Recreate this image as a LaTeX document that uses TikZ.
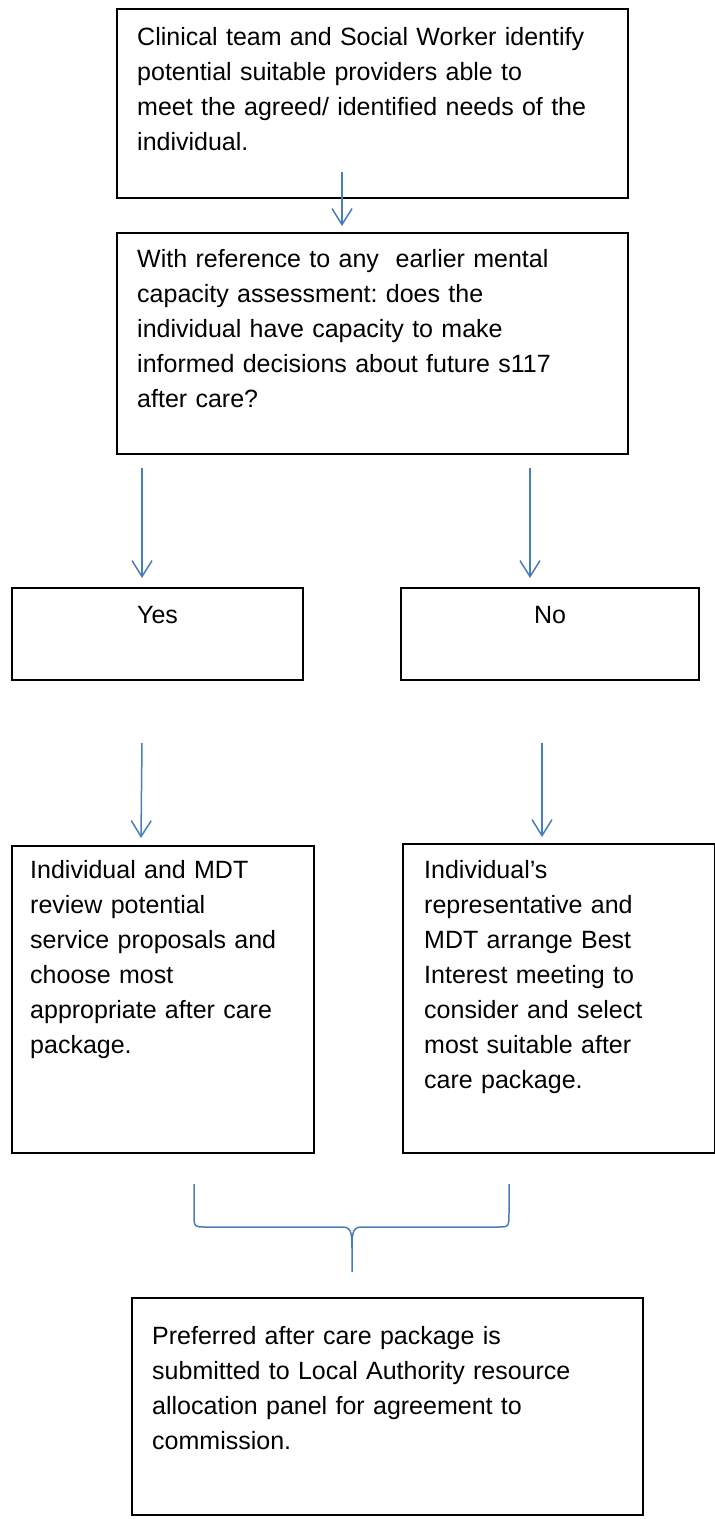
\documentclass[tikz,border=0pt]{standalone}
\usepackage{fontspec}
\setmainfont{Liberation Sans}
\usepackage{tikz}
\usetikzlibrary{arrows.meta,positioning}

\definecolor{wordblue}{RGB}{74,126,187}
\frenchspacing

\begin{document}
\begin{tikzpicture}[x=1pt,y=-1pt,
	box/.style={draw,line width=2pt,anchor=north west,inner sep=0pt},
	txt/.style={anchor=base west,align=left,inner sep=0pt,text width=560pt,
		font=\fontsize{25}{35}\selectfont},
	flowarrow/.style={wordblue,line width=1.5pt,-{Straight Barb[length=16pt,width=20pt]}},
	brace/.style={wordblue,line width=1.5pt}]

	\useasboundingbox (0,0) rectangle (715,1519);

	% boxes
	\node[box,minimum width=511pt,minimum height=189pt] (ident) at (116,8) {};
	\node[box,minimum width=511pt,minimum height=221pt] (capac) at (116,232) {};
	\node[box,minimum width=291pt,minimum height=92pt] (yes) at (11,587) {};
	\node[box,minimum width=298pt,minimum height=92pt] (no) at (400,587) {};
	\node[box,minimum width=302pt,minimum height=307pt] (review) at (11,845) {};
	\node[box,minimum width=312pt,minimum height=309pt] (bestint) at (402,843) {};
	\node[box,minimum width=511pt,minimum height=217pt] (panel) at (131,1297) {};

	% texts
	\node[txt] (identtxt) at ([shift={(21,37)}]ident.north west)
		{Clinical team and Social Worker identify\\potential suitable providers able to\\meet the agreed/ identified needs of the\\individual.};
	\node[txt] (capactxt) at ([shift={(21,35)}]capac.north west)
		{With reference to any\ \ earlier mental\\capacity assessment: does the\\individual have capacity to make\\informed decisions about future s117\\after care?};
	\node[anchor=base,inner sep=0pt,font=\fontsize{25}{35}\selectfont] (yestxt) at ([yshift=-36pt]yes.north) {Yes};
	\node[anchor=base,inner sep=0pt,font=\fontsize{25}{35}\selectfont] (notxt) at ([yshift=-36pt]no.north) {No};
	\node[txt] (reviewtxt) at ([shift={(19,33)}]review.north west)
		{Individual and MDT\\review potential\\service proposals and\\choose most\\appropriate after care\\package.};
	\node[txt] (bestinttxt) at ([shift={(22,35)}]bestint.north west)
		{Individual’s\\representative and\\MDT arrange Best\\Interest meeting to\\consider and select\\most suitable after\\care package.};
	\node[txt] (paneltxt) at ([shift={(21,47)}]panel.north west)
		{Preferred after care package is\\submitted to Local Authority resource\\allocation panel for agreement to\\commission.};

	% arrows
	\coordinate (a1s) at (342,172);
	\coordinate (a1e) at (342,226);
	\coordinate (a2ls) at (142,468);
	\coordinate (a2le) at (142,578);
	\coordinate (a2rs) at (530,468);
	\coordinate (a2re) at (530,578);
	\coordinate (a3ls) at (142,743);
	\coordinate (a3le) at (141,838);
	\coordinate (a3rs) at (542,743);
	\coordinate (a3re) at (542,837);
	\draw[flowarrow] (a1s) -- (a1e);
	\draw[flowarrow] (a2ls) -- (a2le);
	\draw[flowarrow] (a2rs) -- (a2re);
	\draw[flowarrow] (a3ls) -- (a3le);
	\draw[flowarrow] (a3rs) -- (a3re);

	% brace
	\coordinate (brL) at (194,1184);
	\coordinate (brR) at (509,1184);
	\coordinate (brTip) at (352,1272);
	\draw[brace] (brL) -- (194,1213) .. controls (194,1227) .. (206,1227) -- (343,1227)
		.. controls (352,1227) and (352,1236) .. (352,1248) -- (brTip);
	\draw[brace] (brR) -- (509,1213) .. controls (509,1227) .. (497,1227) -- (361,1227)
		.. controls (352,1227) and (352,1236) .. (352,1248);

\end{tikzpicture}
\end{document}
